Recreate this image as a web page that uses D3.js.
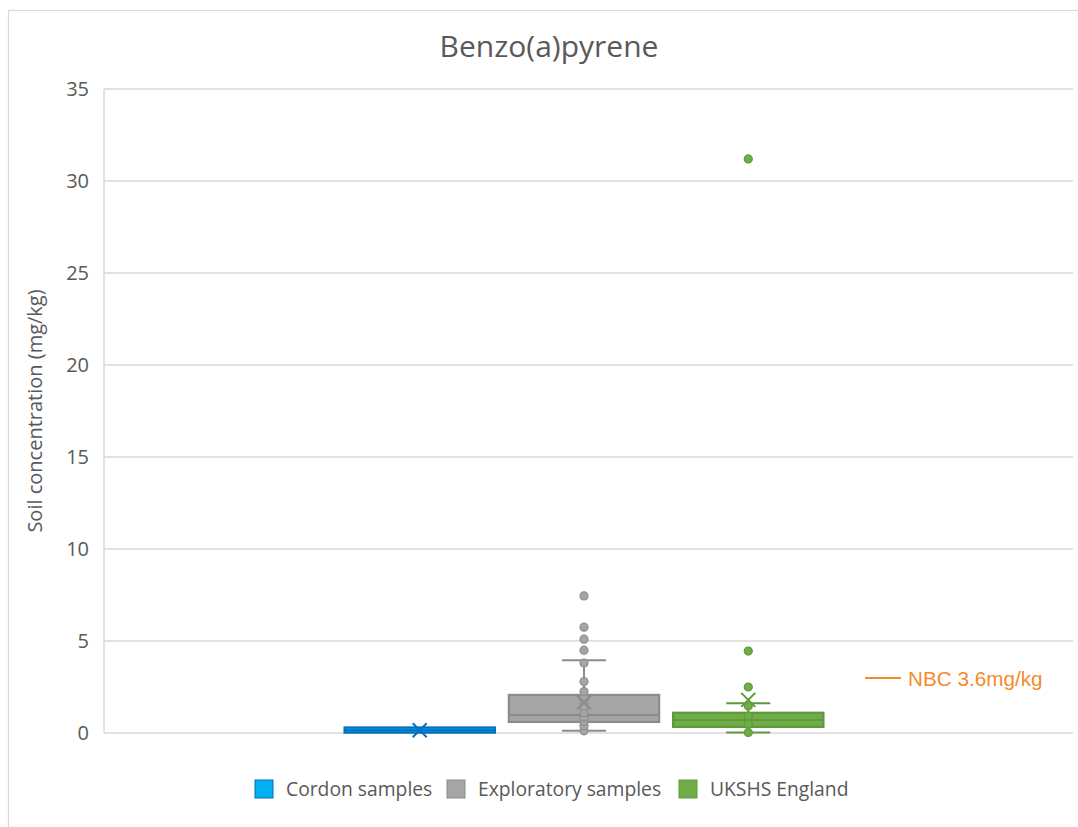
<!DOCTYPE html>
<html>
<head>
<meta charset="utf-8">
<script src="https://cdn.jsdelivr.net/npm/d3@7/dist/d3.min.js"></script>
<style>
  html, body { margin: 0; padding: 0; background: #ffffff; }
  svg { display: block; }
  text { font-family: "Open Sans", sans-serif; fill: #595959; }
</style>
</head>
<body>
<svg id="chart" width="1078" height="827"></svg>
<script>
// Box & whisker summary per sample group (mg/kg)
const categories  = ["Cordon samples", "Exploratory samples", "UKSHS England"];
const whiskerLow  = [0.02, 0.12, 0.03];
const q1Values    = [0.02, 0.60, 0.33];
const medians     = [0.15, 0.98, 0.70];
const q3Values    = [0.30, 2.07, 1.10];
const whiskerHigh = [0.30, 3.95, 1.62];
const means       = [0.15, 1.65, 1.80];

// Individual sample points shown on each box
const cordonPoints      = [];
const exploratoryPoints = [0.12, 0.40, 0.62, 0.85, 1.10, 1.45, 1.80, 2.00, 2.25, 2.80, 3.80, 4.50, 5.10, 5.75, 7.45];
const ukshsPoints       = [0.03, 0.50, 0.92, 1.47, 2.50, 4.45, 31.2];

const yTicks = [0, 5, 10, 15, 20, 25, 30, 35];
const chartTitle = "Benzo(a)pyrene";
const yTitle = "Soil concentration (mg/kg)";
const nbcLabel = "NBC 3.6mg/kg";

const fills   = ["#00B0F0", "#A5A5A5", "#70AD47"];
const strokes = ["#0070C0", "#8C8C8C", "#5E9A3A"];

const groups = categories.map((c, i) => ({
  name: c,
  lo: whiskerLow[i], q1: q1Values[i], med: medians[i], q3: q3Values[i], hi: whiskerHigh[i],
  mean: means[i],
  points: [cordonPoints, exploratoryPoints, ukshsPoints][i],
  fill: fills[i], stroke: strokes[i]
}));

const svg = d3.select("#chart");

// Outer chart frame
svg.append("rect")
  .attr("x", 8.5).attr("y", 10.5).attr("width", 1100).attr("height", 900)
  .attr("fill", "#fff").attr("stroke", "#d9d9d9").attr("stroke-width", 1.2);

const plot = { left: 104, right: 1073, top: 89, bottom: 733 };

const y = d3.scaleLinear().domain([0, 35]).range([plot.bottom, plot.top]);
const x = d3.scaleBand().domain(categories).range([338, 830]).paddingInner(0.085).paddingOuter(0.04);

// Gridlines
svg.append("g").selectAll("line").data(yTicks).join("line")
  .attr("x1", plot.left).attr("x2", plot.right)
  .attr("y1", d => y(d)).attr("y2", d => y(d))
  .attr("stroke", "#d9d9d9").attr("stroke-width", 1.5);

// Left edge of plot area
svg.append("line")
  .attr("x1", plot.left).attr("x2", plot.left)
  .attr("y1", y(35)).attr("y2", y(0))
  .attr("stroke", "#d9d9d9").attr("stroke-width", 1.5);

// Y axis labels
const yAxis = d3.axisLeft(y).tickValues(yTicks).tickSize(0).tickPadding(15);
const gy = svg.append("g").attr("transform", `translate(${plot.left},0)`).call(yAxis);
gy.select(".domain").remove();
gy.selectAll("text")
  .style("font-family", "'Open Sans', sans-serif")
  .style("font-size", "20px")
  .attr("fill", "#595959");

// Axis title
svg.append("text")
  .attr("transform", `translate(42, ${(plot.top + plot.bottom) / 2}) rotate(-90)`)
  .attr("text-anchor", "middle")
  .style("font-size", "20px")
  .text(yTitle);

// Chart title
svg.append("text")
  .attr("x", 549).attr("y", 57)
  .attr("text-anchor", "middle")
  .style("font-size", "30px")
  .text(chartTitle);

// Boxes
const capHalf = 22;
groups.forEach(g => {
  const cx = x(g.name) + x.bandwidth() / 2;
  const bx = x(g.name), bw = x.bandwidth();
  const gg = svg.append("g");

  // whisker stems
  gg.append("line").attr("x1", cx).attr("x2", cx).attr("y1", y(g.q3)).attr("y2", y(g.hi))
    .attr("stroke", g.stroke).attr("stroke-width", 2);
  gg.append("line").attr("x1", cx).attr("x2", cx).attr("y1", y(g.q1)).attr("y2", y(g.lo))
    .attr("stroke", g.stroke).attr("stroke-width", 2);
  // whisker caps
  if (g.hi > g.q3) {
    gg.append("line").attr("x1", cx - capHalf).attr("x2", cx + capHalf).attr("y1", y(g.hi)).attr("y2", y(g.hi))
      .attr("stroke", g.stroke).attr("stroke-width", 2);
  }
  if (g.lo < g.q1) {
    gg.append("line").attr("x1", cx - capHalf).attr("x2", cx + capHalf).attr("y1", y(g.lo)).attr("y2", y(g.lo))
      .attr("stroke", g.stroke).attr("stroke-width", 2);
  }

  // box
  gg.append("rect")
    .attr("x", bx).attr("width", bw)
    .attr("y", y(g.q3)).attr("height", y(g.q1) - y(g.q3))
    .attr("fill", g.fill).attr("stroke", g.stroke).attr("stroke-width", 2.2);

  // median
  gg.append("line").attr("x1", bx).attr("x2", bx + bw).attr("y1", y(g.med)).attr("y2", y(g.med))
    .attr("stroke", g.stroke).attr("stroke-width", 2);

  // points
  gg.selectAll("circle").data(g.points).join("circle")
    .attr("cx", cx).attr("cy", d => y(d)).attr("r", 4)
    .attr("fill", g.fill).attr("stroke", g.stroke).attr("stroke-width", 1.2);

  // mean marker
  const m = 7, my = y(g.mean);
  gg.append("path")
    .attr("d", `M${cx - m},${my - m}L${cx + m},${my + m}M${cx - m},${my + m}L${cx + m},${my - m}`)
    .attr("stroke", g.stroke).attr("stroke-width", 2).attr("fill", "none");
});

// NBC annotation
svg.append("line")
  .attr("x1", 865).attr("x2", 901).attr("y1", 678).attr("y2", 678)
  .attr("stroke", "#F58B2A").attr("stroke-width", 1.8);
svg.append("text")
  .attr("x", 908).attr("y", 686)
  .style("font-family", "'Liberation Sans', Arial, sans-serif")
  .style("font-size", "20.7px")
  .style("fill", "#F58B2A")
  .text(nbcLabel);

// Legend
const legendX = [255, 447, 679];
const legend = svg.append("g");
groups.forEach((g, i) => {
  legend.append("rect")
    .attr("x", legendX[i]).attr("y", 780).attr("width", 18).attr("height", 18)
    .attr("fill", g.fill).attr("stroke", g.stroke).attr("stroke-width", 1);
  legend.append("text")
    .attr("x", legendX[i] + 31).attr("y", 796)
    .style("font-size", "19.3px")
    .text(g.name);
});
</script>
</body>
</html>
